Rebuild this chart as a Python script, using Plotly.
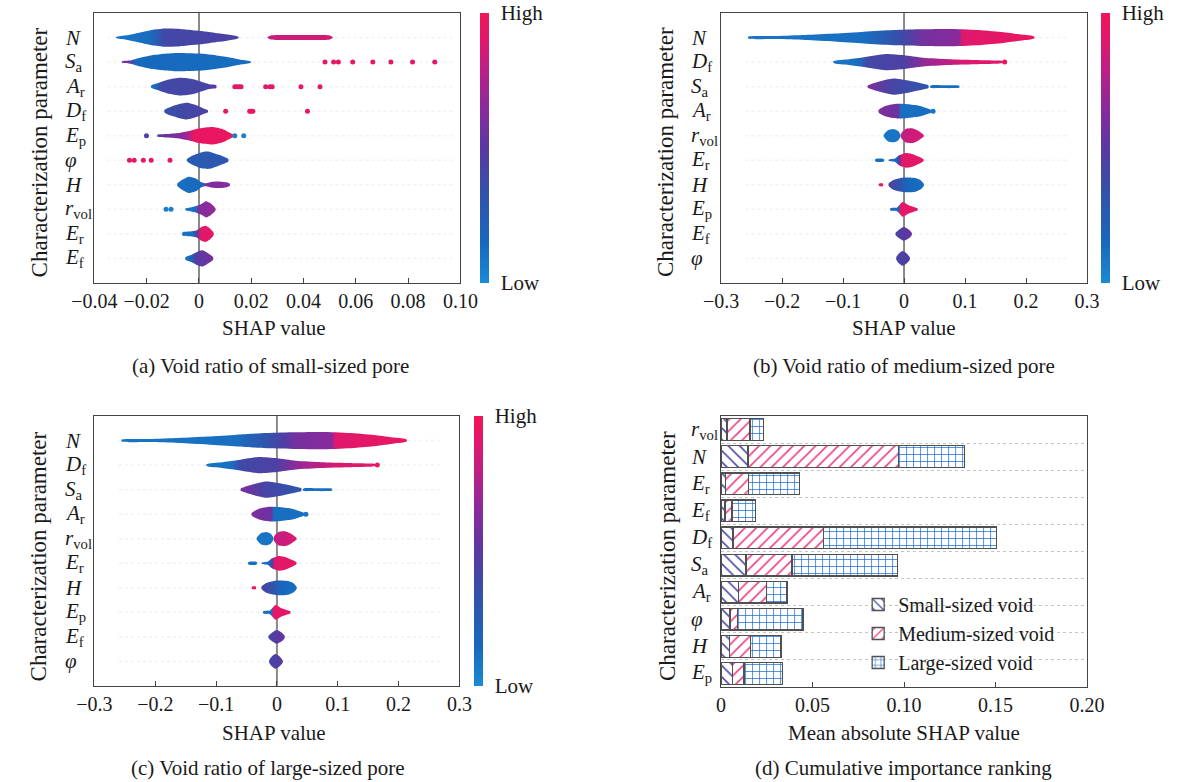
import plotly.graph_objects as go

W, H = 1189, 782
FONT = "Liberation Serif"
INK = "#1a1a1a"

# colour scale: feature value low (0) -> high (1)
CS = [[0.0, "#1a8bd6"], [0.15, "#1768bd"], [0.35, "#3650a8"], [0.5, "#5a38a2"],
      [0.65, "#8a2a9c"], [0.8, "#c01e84"], [0.9, "#e0186c"], [1.0, "#f01658"]]

LABELS = {"N": "<i>N</i>", "Sa": "<i>S</i><sub>a</sub>", "Ar": "<i>A</i><sub>r</sub>",
          "Df": "<i>D</i><sub>f</sub>", "Ep": "<i>E</i><sub>p</sub>", "phi": "<i>φ</i>",
          "H": "<i>H</i>", "rvol": "<i>r</i><sub>vol</sub>", "Er": "<i>E</i><sub>r</sub>",
          "Ef": "<i>E</i><sub>f</sub>"}

# ---------------- (a) small-sized pore ----------------
A_ROWS = ["N", "Sa", "Ar", "Df", "Ep", "phi", "H", "rvol", "Er", "Ef"]   # top -> bottom
# each violin: SHAP positions, half thickness (row units), colour stops (SHAP, feature value)
a_N_x = [-0.0317, -0.0278, -0.0229, -0.018, -0.0132, -0.0083, -0.0034, 0.0015, 0.0063, 0.0112, 0.0151]
a_N_w = [0.02, 0.09, 0.2, 0.31, 0.37, 0.36, 0.31, 0.26, 0.19, 0.12, 0.03]
a_N_c = [(-0.0317, 0.1), (-0.019, 0.13), (-0.013, 0.4), (0.0151, 0.45)]
a_N2_x = [0.0262, 0.0275, 0.030, 0.040, 0.048, 0.050, 0.0512]
a_N2_w = [0.01, 0.08, 0.1, 0.1, 0.1, 0.08, 0.01]
a_N2_c = [(0.0262, 0.82), (0.0512, 0.86)]
a_Sa_x = [-0.0294, -0.0266, -0.0229, -0.018, -0.0132, -0.0083, -0.0034, 0.0015, 0.0063, 0.0112, 0.016, 0.0198]
a_Sa_w = [0.03, 0.06, 0.17, 0.28, 0.34, 0.37, 0.36, 0.34, 0.28, 0.2, 0.1, 0.03]
a_Sa_c = [(-0.0294, 0.62), (-0.027, 0.55), (-0.024, 0.15), (0.0198, 0.13)]
a_Ar_x = [-0.0183, -0.0156, -0.012, -0.0071, -0.0022, 0.0015, 0.0039, 0.0066]
a_Ar_w = [0.05, 0.15, 0.28, 0.36, 0.3, 0.18, 0.1, 0.06]
a_Ar_c = [(-0.0183, 0.1), (-0.016, 0.2), (-0.0145, 0.4), (0.003, 0.42), (0.0066, 0.55)]
a_Df_x = [-0.0132, -0.0107, -0.0071, -0.0046, -0.001, 0.0015, 0.0034]
a_Df_w = [0.05, 0.18, 0.3, 0.34, 0.24, 0.12, 0.04]
a_Df_c = [(-0.0132, 0.35), (0.0034, 0.45)]
a_Ep_x = [-0.0159, -0.012, -0.0071, -0.0034, 0.0002, 0.0051, 0.0088, 0.0112, 0.013]
a_Ep_w = [0.04, 0.07, 0.12, 0.2, 0.3, 0.36, 0.28, 0.15, 0.05]
a_Ep_c = [(-0.0159, 0.5), (-0.006, 0.65), (-0.004, 0.75), (-0.002, 0.95), (0.013, 0.97)]
a_phi_x = [-0.0046, -0.0022, 0.0015, 0.0039, 0.0076, 0.0112]
a_phi_w = [0.04, 0.2, 0.34, 0.35, 0.22, 0.05]
a_phi_c = [(-0.0046, 0.25), (0.0112, 0.3)]
a_H_x = [-0.0083, -0.0065, -0.004, -0.001, 0.0009, 0.0027, 0.0051, 0.0082, 0.0106, 0.0118]
a_H_w = [0.05, 0.2, 0.33, 0.25, 0.1, 0.06, 0.12, 0.13, 0.1, 0.04]
a_H_c = [(-0.0083, 0.12), (0.001, 0.15), (0.003, 0.6), (0.0118, 0.65)]
a_rvol_x = [-0.0052, -0.0034, -0.001, 0.0009, 0.0027, 0.0045, 0.0063]
a_rvol_w = [0.04, 0.08, 0.14, 0.22, 0.33, 0.24, 0.05]
a_rvol_c = [(-0.0052, 0.1), (-0.0015, 0.12), (0.0, 0.62), (0.0063, 0.68)]
a_Er_x = [-0.0065, -0.0061, -0.0034, -0.001, 0.0009, 0.0024, 0.0039, 0.0056]
a_Er_w = [0.02, 0.08, 0.1, 0.14, 0.28, 0.33, 0.25, 0.05]
a_Er_c = [(-0.0065, 0.1), (-0.0025, 0.12), (-0.001, 0.45), (0.0009, 0.92), (0.0056, 0.93)]
a_Ef_x = [-0.0052, -0.0028, 0.0, 0.0015, 0.0033, 0.0054]
a_Ef_w = [0.05, 0.15, 0.3, 0.33, 0.22, 0.05]
a_Ef_c = [(-0.0052, 0.1), (-0.003, 0.15), (-0.0015, 0.45), (0.0054, 0.6)]
A_VIOLINS = [("N", a_N_x, a_N_w, a_N_c), ("N", a_N2_x, a_N2_w, a_N2_c),
             ("Sa", a_Sa_x, a_Sa_w, a_Sa_c), ("Ar", a_Ar_x, a_Ar_w, a_Ar_c),
             ("Df", a_Df_x, a_Df_w, a_Df_c), ("Ep", a_Ep_x, a_Ep_w, a_Ep_c),
             ("phi", a_phi_x, a_phi_w, a_phi_c), ("H", a_H_x, a_H_w, a_H_c),
             ("rvol", a_rvol_x, a_rvol_w, a_rvol_c), ("Er", a_Er_x, a_Er_w, a_Er_c),
             ("Ef", a_Ef_x, a_Ef_w, a_Ef_c)]
# isolated points (a)
a_dot_row = (["Sa"] * 8 + ["Ar"] * 9 + ["Df"] * 5 + ["Ep"] * 3 + ["phi"] * 5 + ["rvol"] * 2)
a_dot_x = [0.0482, 0.0515, 0.0533, 0.0588, 0.0665, 0.0734, 0.0817, 0.0902,
           0.0137, 0.0145, 0.0153, 0.0161, 0.0255, 0.0271, 0.028, 0.039, 0.0463,
           0.0102, 0.0194, 0.02, 0.0206, 0.0415,
           -0.0201, 0.0137, 0.0171,
           -0.0266, -0.0248, -0.0213, -0.0183, -0.0111,
           -0.0126, -0.0107]
a_dot_v = [0.93] * 8 + [0.92] * 9 + [0.95] * 5 + [0.45, 0.05, 0.05] + [0.92] * 5 + [0.05, 0.05]

# ---------------- (b) medium-sized pore ----------------
B_ROWS = ["N", "Df", "Sa", "Ar", "rvol", "Er", "H", "Ep", "Ef", "phi"]
b_N_x = [-0.2554, -0.21, -0.162, -0.114, -0.066, -0.017, 0.031, 0.079, 0.127, 0.163, 0.193, 0.2133]
b_N_w = [0.04, 0.06, 0.1, 0.16, 0.24, 0.31, 0.34, 0.35, 0.3, 0.22, 0.12, 0.04]
b_N_c = [(-0.2554, 0.1), (-0.07, 0.12), (-0.02, 0.3), (0.01, 0.45), (0.03, 0.58), (0.09, 0.65), (0.096, 0.9), (0.2133, 0.95)]
b_Df_x = [-0.1157, -0.09, -0.066, -0.03, 0.0, 0.031, 0.073, 0.115, 0.157, 0.162]
b_Df_w = [0.04, 0.12, 0.2, 0.33, 0.28, 0.18, 0.12, 0.09, 0.06, 0.03]
b_Df_c = [(-0.1157, 0.1), (-0.075, 0.12), (-0.06, 0.4), (0.0, 0.45), (0.04, 0.7), (0.1, 0.88), (0.162, 0.92)]
b_Sa_x = [-0.0596, -0.0416, -0.0175, 0.0066, 0.031, 0.040]
b_Sa_w = [0.04, 0.2, 0.33, 0.25, 0.12, 0.06]
b_Sa_c = [(-0.0596, 0.62), (-0.02, 0.42), (0.04, 0.3)]
b_Sa2_x = [0.0425, 0.045, 0.06, 0.08, 0.0898, 0.091]
b_Sa2_w = [0.02, 0.06, 0.06, 0.06, 0.05, 0.02]
b_Sa2_c = [(0.0425, 0.12)]
b_Ar_x = [-0.0416, -0.0295, -0.0114, 0.0066, 0.0247, 0.0398, 0.0446]
b_Ar_w = [0.05, 0.22, 0.3, 0.28, 0.22, 0.1, 0.05]
b_Ar_c = [(-0.0416, 0.62), (-0.009, 0.55), (-0.005, 0.12), (0.0446, 0.12)]
b_rvol_x = [-0.0335, -0.032, -0.0265, -0.0175, -0.0102, -0.0066, -0.0055]
b_rvol_w = [0.02, 0.08, 0.22, 0.27, 0.2, 0.08, 0.03]
b_rvol_c = [(-0.0335, 0.1)]
b_rvol2_x = [-0.0045, 0.0036, 0.0127, 0.0217, 0.031, 0.0325]
b_rvol2_w = [0.1, 0.28, 0.3, 0.22, 0.06, 0.02]
b_rvol2_c = [(-0.0045, 0.8), (0.0325, 0.88)]
b_Er_x = [-0.0476, -0.046, -0.034, -0.0325]
b_Er_w = [0.02, 0.06, 0.06, 0.02]
b_Er_c = [(-0.0476, 0.12)]
b_Er2_x = [-0.0253, -0.02, -0.0145, -0.0084, 0.0036, 0.0157, 0.0247, 0.032]
b_Er2_w = [0.02, 0.05, 0.07, 0.2, 0.3, 0.24, 0.14, 0.04]
b_Er2_c = [(-0.0253, 0.12), (-0.012, 0.15), (-0.008, 0.5), (-0.003, 0.92), (0.032, 0.93)]
b_H_x = [-0.0416, -0.04, -0.035, -0.0343]
b_H_w = [0.02, 0.06, 0.06, 0.02]
b_H_c = [(-0.0416, 0.95)]
b_H2_x = [-0.0253, -0.0175, 0.0, 0.0187, 0.0277, 0.0325]
b_H2_w = [0.05, 0.2, 0.3, 0.28, 0.18, 0.04]
b_H2_c = [(-0.0253, 0.45), (-0.005, 0.3), (0.008, 0.15), (0.0325, 0.13)]
b_Ep_x = [-0.023, -0.0217, -0.0114, -0.0024, 0.0066, 0.0157, 0.0223]
b_Ep_w = [0.02, 0.06, 0.08, 0.3, 0.18, 0.1, 0.04]
b_Ep_c = [(-0.023, 0.12), (-0.009, 0.15), (-0.006, 0.93), (0.0223, 0.93)]
b_Ef_x = [-0.0139, -0.0066, -0.0006, 0.0066, 0.0127]
b_Ef_w = [0.04, 0.2, 0.28, 0.2, 0.05]
b_Ef_c = [(-0.0139, 0.4), (0.0, 0.5), (0.0127, 0.55)]
b_phi_x = [-0.0127, -0.0084, -0.0024, 0.0036, 0.0096]
b_phi_w = [0.05, 0.2, 0.3, 0.22, 0.04]
b_phi_c = [(-0.0127, 0.42), (0.0096, 0.48)]
B_VIOLINS = [("N", b_N_x, b_N_w, b_N_c), ("Df", b_Df_x, b_Df_w, b_Df_c),
             ("Sa", b_Sa_x, b_Sa_w, b_Sa_c), ("Sa", b_Sa2_x, b_Sa2_w, b_Sa2_c),
             ("Ar", b_Ar_x, b_Ar_w, b_Ar_c), ("rvol", b_rvol_x, b_rvol_w, b_rvol_c),
             ("rvol", b_rvol2_x, b_rvol2_w, b_rvol2_c), ("Er", b_Er_x, b_Er_w, b_Er_c),
             ("Er", b_Er2_x, b_Er2_w, b_Er2_c), ("H", b_H_x, b_H_w, b_H_c),
             ("H", b_H2_x, b_H2_w, b_H2_c), ("Ep", b_Ep_x, b_Ep_w, b_Ep_c),
             ("Ef", b_Ef_x, b_Ef_w, b_Ef_c), ("phi", b_phi_x, b_phi_w, b_phi_c)]
b_dot_row = ["Df", "Ar"]
b_dot_x = [0.165, 0.0476]
b_dot_v = [0.95, 0.1]

# ---------------- (c) large-sized pore (same ordering and nearly identical profile) ----------------
C_ROWS = B_ROWS
C_VIOLINS = B_VIOLINS
c_dot_row, c_dot_x, c_dot_v = b_dot_row, b_dot_x, b_dot_v

# ---------------- (d) cumulative importance ----------------
D_ROWS = ["rvol", "N", "Er", "Ef", "Df", "Sa", "Ar", "phi", "H", "Ep"]   # top -> bottom
d_small = [0.0032, 0.0147, 0.0026, 0.0021, 0.0065, 0.0137, 0.0095, 0.0049, 0.0047, 0.0063]
d_medium = [0.0126, 0.0823, 0.0123, 0.0039, 0.0495, 0.0251, 0.0152, 0.0039, 0.0113, 0.0062]
d_large = [0.0075, 0.0360, 0.0279, 0.0129, 0.0945, 0.0575, 0.0113, 0.0359, 0.0168, 0.0210]


# ---------------- helpers ----------------
def _hex(h):
    h = h.lstrip("#")
    return tuple(int(h[i:i + 2], 16) for i in (0, 2, 4))


def cmap(v):
    v = min(max(v, 0.0), 1.0)
    for (p0, c0), (p1, c1) in zip(CS[:-1], CS[1:]):
        if v <= p1:
            t = 0 if p1 == p0 else (v - p0) / (p1 - p0)
            a, b = _hex(c0), _hex(c1)
            return "rgb(%d,%d,%d)" % tuple(round(a[i] + (b[i] - a[i]) * t) for i in range(3))
    return "rgb(%d,%d,%d)" % _hex(CS[-1][1])


def grad(xs, stops):
    lo, hi = min(xs), max(xs)
    out = []
    for sx, sv in stops:
        f = min(max((sx - lo) / (hi - lo), 0.0), 1.0)
        out.append([f, cmap(sv)])
    out.sort(key=lambda s: s[0])
    if out[0][0] > 0:
        out.insert(0, [0.0, out[0][1]])
    else:
        out[0][0] = 0.0
    if out[-1][0] < 1:
        out.append([1.0, out[-1][1]])
    else:
        out[-1][0] = 1.0
    return out


def px_x(p):
    return p / W


def px_y(p):
    return 1 - p / H


fig = go.Figure()

PANELS = [
    ("a", A_ROWS, A_VIOLINS, (a_dot_row, a_dot_x, a_dot_v), "x", "y", (74, 453, 13, 283),
     [-0.04, 0.10], [-0.04, -0.02, 0, 0.02, 0.04, 0.06, 0.08, 0.10],
     ["−0.04", "−0.02", "0", "0.02", "0.04", "0.06", "0.08", "0.10"], 473, 41, (-0.035, 0.097)),
    ("b", B_ROWS, B_VIOLINS, (b_dot_row, b_dot_x, b_dot_v), "x2", "y2", (723, 1102, 13, 283),
     [-0.3, 0.3], [-0.3, -0.2, -0.1, 0, 0.1, 0.2, 0.3],
     ["−0.3", "−0.2", "−0.1", "0", "0.1", "0.2", "0.3"], 1117, 690, (-0.26, 0.27)),
    ("c", C_ROWS, C_VIOLINS, (c_dot_row, c_dot_x, c_dot_v), "x3", "y3", (74, 452, 416, 686),
     [-0.3, 0.3], [-0.3, -0.2, -0.1, 0, 0.1, 0.2, 0.3],
     ["−0.3", "−0.2", "−0.1", "0", "0.1", "0.2", "0.3"], 467, 41, (-0.26, 0.27)),
]

annotations = []
shapes = []
axis_common = dict(showline=True, linecolor="#444444", linewidth=1.3, mirror=True,
                   showgrid=False, zeroline=False)

for (name, rows, violins, dots, xa, ya, frame, xr, tv, tt, cbx, labx, rl) in PANELS:
    nrow = len(rows)
    rowpos = {r: nrow - 1 - i for i, r in enumerate(rows)}
    for r in rows:
        fig.add_trace(go.Scatter(x=[rl[0], rl[1]], y=[rowpos[r], rowpos[r]], mode="lines",
                                 line=dict(color="rgba(200,205,222,0.25)", width=1.5, dash="dot"),
                                 xaxis=xa, yaxis=ya, hoverinfo="skip", showlegend=False))
    for feat, xs, ws, stops in violins:
        y0 = rowpos[feat]
        px = list(xs) + list(xs[::-1]) + [xs[0]]
        py = [y0 + w for w in ws] + [y0 - w for w in ws[::-1]] + [y0 + ws[0]]
        fig.add_trace(go.Scatter(x=px, y=py, mode="lines",
                                 line=dict(width=0, shape="spline", smoothing=0.6),
                                 fill="toself",
                                 fillgradient=dict(type="horizontal", colorscale=grad(xs, stops)),
                                 xaxis=xa, yaxis=ya, hoverinfo="skip", showlegend=False))
    drow, dx, dv = dots
    fig.add_trace(go.Scatter(
        x=dx, y=[rowpos[r] for r in drow], mode="markers",
        marker=dict(size=5, color=dv, colorscale=CS, cmin=0, cmax=1, showscale=True,
                    colorbar=dict(x=px_x(cbx), xanchor="left", y=px_y(frame[2]), yanchor="top",
                                  len=(frame[3] - frame[2]) / H, lenmode="fraction",
                                  thickness=9, outlinewidth=0, xpad=0, ypad=0,
                                  tickmode="array", tickvals=[0, 1], ticktext=["Low", "High"],
                                  ticks="outside", ticklen=8, tickcolor="rgba(0,0,0,0)",
                                  tickfont=dict(family=FONT, size=21, color=INK))),
        xaxis=xa, yaxis=ya, hoverinfo="skip", showlegend=False))

    xkey = "xaxis" if xa == "x" else "xaxis" + xa[1:]
    ykey = "yaxis" if ya == "y" else "yaxis" + ya[1:]
    fig.update_layout(**{
        xkey: dict(domain=[px_x(frame[0]), px_x(frame[1])], anchor=ya, range=xr,
                   tickmode="array", tickvals=tv, ticktext=tt, ticks="inside", ticklen=5,
                   tickcolor="#444444", tickfont=dict(family=FONT, size=20, color=INK),
                   **axis_common),
        ykey: dict(domain=[px_y(frame[3]), px_y(frame[2])], anchor=xa, range=[-1, nrow],
                   showticklabels=False, ticks="", **axis_common),
    })
    shapes.append(dict(type="line", xref=xa, yref=ya + " domain", x0=0, x1=0, y0=0, y1=1,
                       line=dict(color="#8a8a8a", width=2), layer="below"))
    for r in rows:
        annotations.append(dict(text=LABELS[r], xref="paper", x=px_x(labx), xanchor="left",
                                yref=ya, y=rowpos[r], yanchor="middle", showarrow=False,
                                font=dict(family=FONT, size=21, color=INK)))

# ---------------- (d) stacked bars ----------------
d_pos = [len(D_ROWS) - 1 - i for i in range(len(D_ROWS))]
BAR_SPECS = [("Small-sized void", d_small, "\\", "#4a4aaa", 8),
             ("Medium-sized void", d_medium, "/", "#ec3f84", 8),
             ("Large-sized void", d_large, "+", "#1c6cd0", 7)]
for i, (nm, vals, shp, col, sz) in enumerate(BAR_SPECS):
    fig.add_trace(go.Bar(
        x=vals, y=d_pos, orientation="h", name=nm, width=0.8,
        marker=dict(color="white", line=dict(color="#505050", width=1.3),
                    pattern=dict(shape=shp, fgcolor=col, bgcolor="white", size=sz,
                                 solidity=0.2, fgopacity=1)),
        xaxis="x4", yaxis="y4", legendgroup=nm, hoverinfo="skip"))

fig.update_layout(
    barmode="stack",
    xaxis4=dict(domain=[px_x(723), px_x(1102)], anchor="y4", range=[0, 0.2],
                tickmode="array", tickvals=[0, 0.05, 0.10, 0.15, 0.20],
                ticktext=["0", "0.05", "0.10", "0.15", "0.20"], ticks="inside", ticklen=5,
                tickcolor="#444444", tickfont=dict(family=FONT, size=20, color=INK), **axis_common),
    yaxis4=dict(domain=[px_y(687), px_y(416)], anchor="x4", range=[-0.5, len(D_ROWS) - 0.5],
                showticklabels=False, ticks="",
                minor=dict(tickmode="array", tickvals=[k + 0.5 for k in range(len(D_ROWS) - 1)],
                           showgrid=True, gridcolor="#c4c4c4", griddash="dot", gridwidth=1, ticks=""),
                **axis_common),
)
for r, p in zip(D_ROWS, d_pos):
    annotations.append(dict(text=LABELS[r], xref="paper", x=px_x(690), xanchor="left",
                            yref="y4", y=p, yanchor="middle", showarrow=False,
                            font=dict(family=FONT, size=21, color=INK)))

# ---------------- titles & captions ----------------
YT = "Characterization parameter"
for (xc, yc) in [(17, 152), (665, 152), (16, 556), (667, 556)]:
    annotations.append(dict(text=YT, xref="paper", yref="paper", x=px_x(xc), y=px_y(yc),
                            textangle=-90, showarrow=False, xanchor="center", yanchor="middle",
                            font=dict(family=FONT, size=23, color=INK)))
XT = [("SHAP value", 260, 328), ("SHAP value", 912, 328), ("SHAP value", 260, 733),
      ("Mean absolute SHAP value", 912, 733)]
for t, xc, yc in XT:
    annotations.append(dict(text=t, xref="paper", yref="paper", x=px_x(xc), y=px_y(yc),
                            showarrow=False, xanchor="center", yanchor="middle",
                            font=dict(family=FONT, size=21, color=INK)))
CAPS = [("(a) Void ratio of small-sized pore", 256, 366),
        ("(b) Void ratio of medium-sized pore", 912, 366),
        ("(c) Void ratio of large-sized pore", 254, 768),
        ("(d) Cumulative importance ranking", 912, 768)]
for t, xc, yc in CAPS:
    annotations.append(dict(text=t, xref="paper", yref="paper", x=px_x(xc), y=px_y(yc),
                            showarrow=False, xanchor="center", yanchor="middle",
                            font=dict(family=FONT, size=21, color=INK)))

fig.update_layout(
    width=W, height=H, margin=dict(l=0, r=0, t=0, b=0),
    paper_bgcolor="white", plot_bgcolor="white",
    font=dict(family=FONT, size=20, color=INK),
    annotations=annotations, shapes=shapes,
    showlegend=True,
    legend=dict(x=px_x(865), y=px_y(585), xanchor="left", yanchor="top",
                bgcolor="rgba(0,0,0,0)", traceorder="normal", tracegroupgap=9,
                font=dict(family=FONT, size=20, color=INK)),
)

fig.write_html("out.html")
